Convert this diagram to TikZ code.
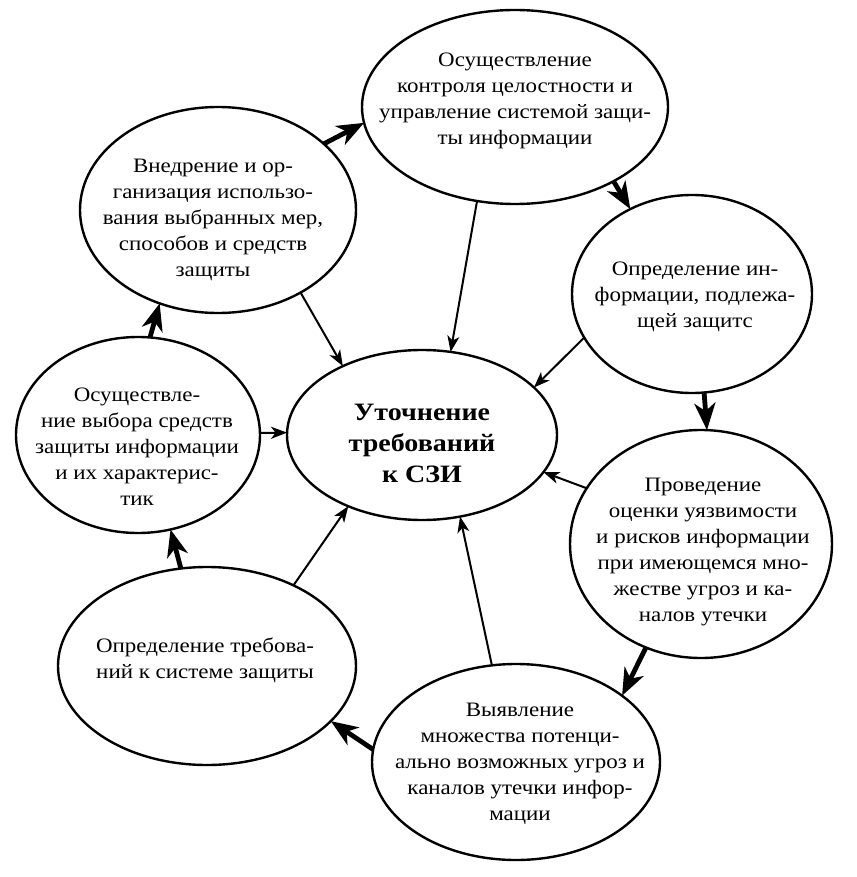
\documentclass[tikz,border=0pt]{standalone}
\usepackage{fontspec}
\setmainfont{Liberation Serif}[FakeStretch=1.12]
\usetikzlibrary{arrows.meta,shapes.geometric}
\begin{document}
\begin{tikzpicture}[x=1pt,y=-1pt,
  ell/.style={draw, ellipse, line width=2.4pt, inner sep=0pt, outer sep=0pt},
  txt/.style={align=center, inner sep=0pt, font=\fontsize{20.5}{26}\selectfont},
  ctxt/.style={align=center, inner sep=0pt, font=\fontsize{25}{31}\selectfont\bfseries},
  cyc/.style={line width=4.8pt, -{Stealth[length=27pt,width=21pt,inset=8pt]}},
  thn/.style={line width=2pt, -{Stealth[length=16pt,width=12pt,inset=4.5pt]}}
]
\fill[white] (0,0) rectangle (856,877);
\useasboundingbox (0,0) rectangle (856,877);

% ellipses
\node[ell, minimum width=306pt, minimum height=194pt] (ctrl)   at (515,107) {};
\node[ell, minimum width=276pt, minimum height=206pt] (impl)   at (218,210) {};
\node[ell, minimum width=240pt, minimum height=198pt] (info)   at (692,294) {};
\node[ell, minimum width=244pt, minimum height=196pt] (choice) at (138,435) {};
\node[ell, minimum width=270pt, minimum height=170pt] (center) at (422,435) {};
\node[ell, minimum width=262pt, minimum height=228pt] (assess) at (701,544) {};
\node[ell, minimum width=298pt, minimum height=198pt] (req)    at (207,666) {};
\node[ell, minimum width=288pt, minimum height=196pt] (threat) at (516,762) {};

% texts
\node[txt] (t1) at (515,101) {Осуществление\\контроля целостности и\\управление системой защи-\\ты информации};
\node[txt] (t2) at (213,220) {Внедрение и ор-\\ганизация использо-\\вания выбранных мер,\\способов и средств\\защиты};
\node[txt] (t3) at (695,297) {Определение ин-\\формации, подлежа-\\щей защитс};
\node[txt] (t4) at (137,447) {Осуществле-\\ние выбора средств\\защиты информации\\и их характерис-\\тик};
\node[ctxt] (t5) at (422,443) {Уточнение\\требований\\к СЗИ};
\node[txt] (t6) at (703,552) {Проведение\\оценки уязвимости\\и рисков информации\\при имеющемся мно-\\жестве угроз и ка-\\налов утечки};
\node[txt] (t7) at (205,660) {Определение требова-\\ний к системе защиты};
\node[txt] (t8) at (520,764) {Выявление\\множества потенци-\\ально возможных угроз и\\каналов утечки инфор-\\мации};

% cycle arrows
\draw[cyc] (choice.83)  -- (impl.238);
\draw[cyc] (impl.32)    -- (ctrl.186.5);
\draw[cyc] (ctrl.323)   -- (info.126.3);
\draw[cyc] (info.277.5) -- (assess.87.5);
\draw[cyc] (assess.242.2) -- (threat.32.7);
\draw[cyc] (threat.175.1) -- (req.336.4);
\draw[cyc] (req.105.4)  -- (choice.289.3);

% thin arrows to center
\draw[thn] (impl.315.7)   -- (center.139.7);
\draw[thn] (ctrl.248.9)   -- (center.71.4);
\draw[thn] (info.202.7)   -- (center.23.5);
\draw[thn] (choice.1)     -- (center.179);
\draw[thn] (assess.154.8) -- (center.343);
\draw[thn] (threat.104.9) -- (center.295.2);
\draw[thn] (req.43)       -- (center.224.2);
\end{tikzpicture}
\end{document}
